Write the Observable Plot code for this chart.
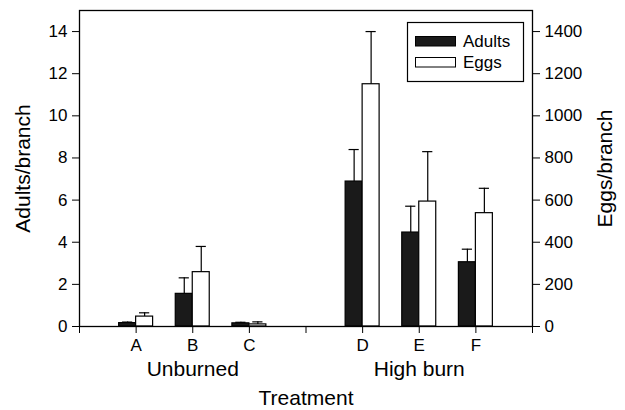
<!DOCTYPE html>
<html>
<head>
<meta charset="utf-8">
<script src="https://cdn.jsdelivr.net/npm/d3@7"></script>
<script src="https://cdn.jsdelivr.net/npm/@observablehq/plot@0.6"></script>
<style>
  html, body { margin: 0; padding: 0; background: #fff; }
  #chart { position: relative; width: 625px; height: 410px; }
</style>
</head>
<body>
<div id="chart"></div>
<script>
// ---- data ----
const treatments = ["A", "B", "C", "D", "E", "F"];
const positions = [1, 2, 3, 5, 6, 7];
const adults = [0.16, 1.55, 0.15, 6.88, 4.46, 3.05];
const adultsTop = [0.21, 2.31, 0.2, 8.4, 5.71, 3.67];
const eggs = [47, 258, 10, 1150, 593, 538];
const eggsTop = [65, 380, 22, 1400, 830, 656];
const groups = ["Unburned", "High burn"];
const groupCenters = [2, 6];
const leftTicks = [0, 2, 4, 6, 8, 10, 12, 14];
const rightTicks = [0, 200, 400, 600, 800, 1000, 1200, 1400];
const xTicks = [0, 1, 2, 3, 4, 5, 6, 7, 8];

const adultRows = treatments.map((t, i) => ({t, x: positions[i], v: adults[i], top: adultsTop[i]}));
const eggRows = treatments.map((t, i) => ({t, x: positions[i], v: eggs[i] / 100, top: eggsTop[i] / 100}));
const groupRows = groups.map((g, i) => ({g, x: groupCenters[i]}));
const xLabel = new Map(positions.map((p, i) => [p, treatments[i]]));

const bw = 0.3, cap = 0.09;
const font = "'Liberation Sans', Arial, sans-serif";

const plot = Plot.plot({
  width: 625,
  height: 410,
  marginLeft: 79,
  marginRight: 93,
  marginTop: 10,
  marginBottom: 84,
  style: {fontFamily: font, color: "#000", background: "#fff", overflow: "visible"},
  x: {domain: [0, 8]},
  y: {domain: [0, 15]},
  marks: [
    Plot.rect(adultRows, {x1: d => d.x - bw, x2: d => d.x, y1: 0, y2: "v", fill: "#1a1a1a", stroke: "#000", strokeWidth: 1.2}),
    Plot.rect(eggRows, {x1: d => d.x, x2: d => d.x + bw, y1: 0, y2: "v", fill: "#fff", stroke: "#000", strokeWidth: 1.2}),
    Plot.ruleX(adultRows, {x: d => d.x - bw / 2, y1: "v", y2: "top", stroke: "#000", strokeWidth: 1.2}),
    Plot.ruleY(adultRows, {y: "top", x1: d => d.x - bw / 2 - cap, x2: d => d.x - bw / 2 + cap, stroke: "#000", strokeWidth: 1.2}),
    Plot.ruleX(eggRows, {x: d => d.x + bw / 2, y1: "v", y2: "top", stroke: "#000", strokeWidth: 1.2}),
    Plot.ruleY(eggRows, {y: "top", x1: d => d.x + bw / 2 - cap, x2: d => d.x + bw / 2 + cap, stroke: "#000", strokeWidth: 1.2}),
    Plot.frame({stroke: "#000", strokeWidth: 1.3}),
    Plot.axisX(xTicks, {tickFormat: d => xLabel.get(d) ?? "", tickSize: 7, tickPadding: 5, fontSize: 17, label: null}),
    Plot.axisY(leftTicks, {anchor: "left", tickSize: 7, tickPadding: 5, fontSize: 17, label: null}),
    Plot.axisY(rightTicks.map(d => d / 100), {anchor: "right", tickFormat: d => String(Math.round(d * 100)), tickSize: 7, tickPadding: 5, fontSize: 17, label: null}),
    Plot.text(groupRows, {x: "x", text: "g", frameAnchor: "bottom", lineAnchor: "middle", dy: 43, fontSize: 21}),
    Plot.text(["Treatment"], {text: d => d, frameAnchor: "bottom", lineAnchor: "middle", dy: 72, fontSize: 21}),
    Plot.text(["Adults/branch"], {text: d => d, frameAnchor: "left", textAnchor: "middle", lineAnchor: "middle", dx: -56, rotate: -90, fontSize: 21}),
    Plot.text(["Eggs/branch"], {text: d => d, frameAnchor: "right", textAnchor: "middle", lineAnchor: "middle", dx: 73, rotate: -90, fontSize: 21})
  ]
});

document.getElementById("chart").appendChild(plot);

// legend
const svg = d3.select(plot);
const lg = svg.append("g").attr("font-family", font).attr("font-size", 17).attr("text-anchor", "start");
lg.append("rect").attr("x", 407.5).attr("y", 22.5).attr("width", 116).attr("height", 59)
  .attr("fill", "#fff").attr("stroke", "#000").attr("stroke-width", 1.2);
const legendItems = [{label: "Adults", fill: "#1a1a1a"}, {label: "Eggs", fill: "#fff"}];
legendItems.forEach((it, i) => {
  const y = 36 + i * 21;
  lg.append("rect").attr("x", 415.5).attr("y", y + 0.5).attr("width", 40).attr("height", 9.5)
    .attr("fill", it.fill).attr("stroke", "#000").attr("stroke-width", 1);
  lg.append("text").attr("x", 463).attr("y", y + 11).attr("text-anchor", "start").text(it.label);
});
</script>
</body>
</html>
